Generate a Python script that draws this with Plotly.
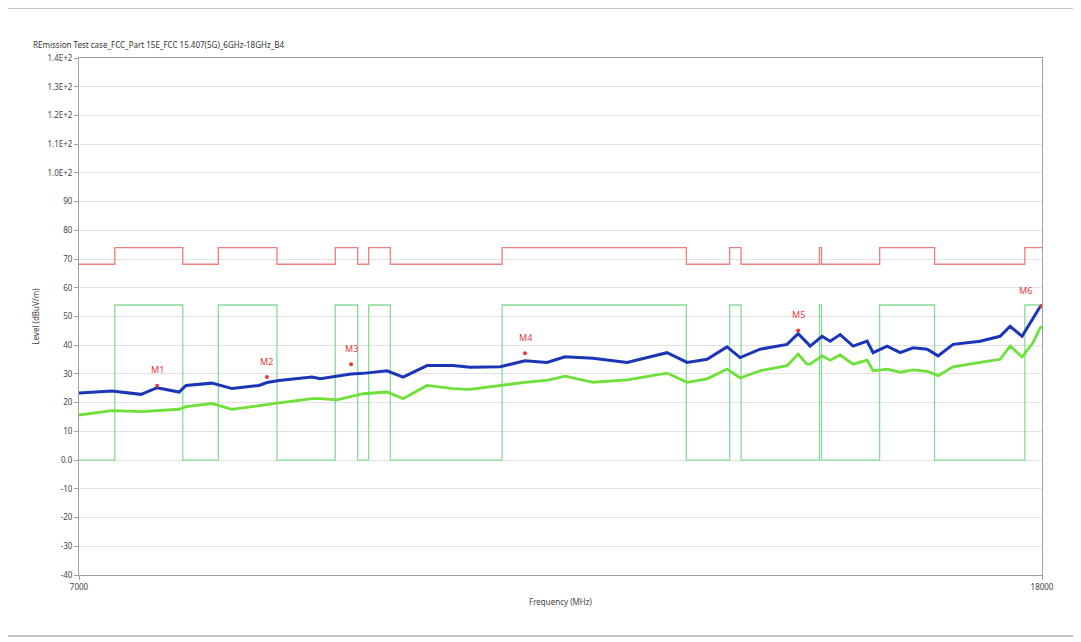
import math
import plotly.graph_objects as go

# ---------------- data ----------------
freq_mhz = [7000, 7230, 7439, 7557, 7722, 7775, 7975, 8133, 8352, 8417, 8517, 8797, 8867,
            9016, 9141, 9249, 9469, 9619, 9848, 10102, 10272, 10579, 10841, 11077, 11275,
            11589, 11982, 12461, 12709, 12960, 13217, 13387, 13652, 14018, 14171, 14290,
            14338, 14508, 14623, 14767, 14956, 15163, 15252, 15463, 15662, 15863, 16082,
            16256, 16497, 16940, 17275, 17446, 17652, 17843, 17966, 18000]
peak_dbuv = [23.4, 24.1, 22.9, 25.2, 23.7, 26.0, 26.8, 24.9, 26.0, 27.0, 27.7, 28.9, 28.3,
             29.1, 30.0, 30.2, 31.1, 28.9, 32.9, 32.9, 32.3, 32.5, 34.6, 34.0, 36.0,
             35.5, 34.0, 37.4, 34.0, 35.1, 39.4, 35.7, 38.6, 40.3, 44.0, 41.0,
             39.7, 43.1, 41.4, 43.7, 39.7, 41.4, 37.4, 39.7, 37.4, 39.1, 38.6,
             36.3, 40.3, 41.4, 43.1, 46.6, 43.1, 49.4, 53.4, 53.8]
avg_dbuv = [15.7, 17.2, 16.9, 17.3, 17.7, 18.6, 19.7, 17.7, 19.1, 19.3, 19.9, 21.4, 21.4,
            21.0, 22.0, 23.1, 23.7, 21.4, 26.0, 24.9, 24.6, 26.0, 27.1, 27.8, 29.2,
            27.1, 27.9, 30.3, 27.1, 28.3, 31.7, 28.6, 31.1, 32.9, 36.9, 33.5,
            33.4, 36.3, 34.8, 36.6, 33.4, 34.8, 31.1, 31.7, 30.6, 31.4, 30.9,
            29.4, 32.5, 34.0, 35.1, 39.7, 35.9, 40.9, 46.0, 46.5]

# restricted bands (MHz) and limit levels (dBuV/m)
band_start = [7250, 8025, 9000, 9300, 10600, 13250, 14470, 15350, 17700]
band_stop = [7750, 8500, 9200, 9500, 12700, 13400, 14500, 16200, 21400]
peak_limit_in, peak_limit_out = 74.0, 68.2
avg_limit_in, avg_limit_out = 54.0, 0.0

marker_names = ["M1", "M2", "M3", "M4", "M5", "M6"]
marker_freq = [7557, 8417, 9141, 10841, 14171, 17990]
marker_level = [25.9, 28.9, 33.4, 37.2, 45.1, 53.6]

y_tickvals = [140, 130, 120, 110, 100, 90, 80, 70, 60, 50, 40, 30, 20, 10, 0, -10, -20, -30, -40]
y_ticktext = ["1.4E+2", "1.3E+2", "1.2E+2", "1.1E+2", "1.0E+2", "90", "80", "70", "60", "50",
              "40", "30", "20", "10", "0.0", "-10", "-20", "-30", "-40"]
x_tickvals = [7000, 18000]
x_ticktext = ["7000", "18000"]
F_MIN, F_MAX = 7000, 18000


def step_line(lo, hi):
    xs, ys = [F_MIN], [lo]
    for s, e in zip(band_start, band_stop):
        e2 = min(e, F_MAX)
        xs += [s, s, e2]
        ys += [lo, hi, hi]
        if e < F_MAX:
            xs.append(e)
            ys.append(lo)
    if xs[-1] < F_MAX:
        xs.append(F_MAX)
        ys.append(ys[-1])
    return xs, ys


px_, py_ = step_line(peak_limit_out, peak_limit_in)
ax_, ay_ = step_line(avg_limit_out, avg_limit_in)

fig = go.Figure()
fig.add_trace(go.Scatter(x=px_, y=py_, mode="lines", line=dict(color="#f07c7c", width=1.3),
                         hoverinfo="skip", showlegend=False))
fig.add_trace(go.Scatter(x=ax_, y=ay_, mode="lines", line=dict(color="#86dc96", width=1.3),
                         hoverinfo="skip", showlegend=False))
fig.add_trace(go.Scatter(x=freq_mhz, y=avg_dbuv, mode="lines",
                         line=dict(color="#6ee03a", width=2.8), showlegend=False))
fig.add_trace(go.Scatter(x=freq_mhz, y=peak_dbuv, mode="lines",
                         line=dict(color="#1a35b8", width=3), showlegend=False))
fig.add_trace(go.Scatter(x=marker_freq, y=marker_level, mode="markers",
                         marker=dict(color="#e03a3a", size=4), showlegend=False))
for name, f, lv in zip(marker_names, marker_freq, marker_level):
    # annotation x on a log axis is given in log10 units
    fig.add_annotation(x=math.log10(f), y=lv, xref="x", yref="y", text=name, showarrow=False,
                       yshift=16, xshift=-16 if name == "M6" else 0,
                       font=dict(color="#e03a3a", size=9, family="Noto Sans"))

# page body adds ~8px offset; figure laid out to compensate
W, H = 1073, 634
L, T = 71, 50
PW, PH = 963, 517
fig.update_layout(
    width=W, height=H,
    margin=dict(l=L, r=W - L - PW, t=T, b=H - T - PH),
    paper_bgcolor="white", plot_bgcolor="white",
    font=dict(family="Noto Sans", size=8, color="#444"),
    title=dict(text="REmission Test case_FCC_Part 15E_FCC 15.407(5G)_6GHz-18GHz_B4",
               x=25 / W, xanchor="left", y=1 - 37 / H, yanchor="middle",
               font=dict(size=8, color="#333")),
    xaxis=dict(type="log", range=[math.log10(F_MIN), math.log10(F_MAX)],
               tickvals=x_tickvals, ticktext=x_ticktext,
               showgrid=False, showline=True, linecolor="#a0a0a0", mirror=True,
               ticks="outside", ticklen=4, tickcolor="#a0a0a0",
               title=dict(text="Frequency (MHz)", font=dict(size=8), standoff=8),
               zeroline=False),
    yaxis=dict(range=[-40, 140], tickvals=y_tickvals, ticktext=y_ticktext,
               showgrid=True, gridcolor="#e2e2e2", gridwidth=1,
               showline=True, linecolor="#a0a0a0", mirror=True,
               ticks="outside", ticklen=4, tickcolor="#a0a0a0",
               title=dict(text="Level (dBuV/m)", font=dict(size=8), standoff=6),
               zeroline=False),
)

# screenshot border lines at top and bottom of the image
for yp in [(T + PH) / PH, (T + PH - 628) / PH]:
    fig.add_shape(type="line", xref="paper", yref="paper", x0=-L / PW, x1=(W - L) / PW,
                  y0=yp, y1=yp, line=dict(color="#8a8a8a", width=1))

fig.write_html("out.html")
